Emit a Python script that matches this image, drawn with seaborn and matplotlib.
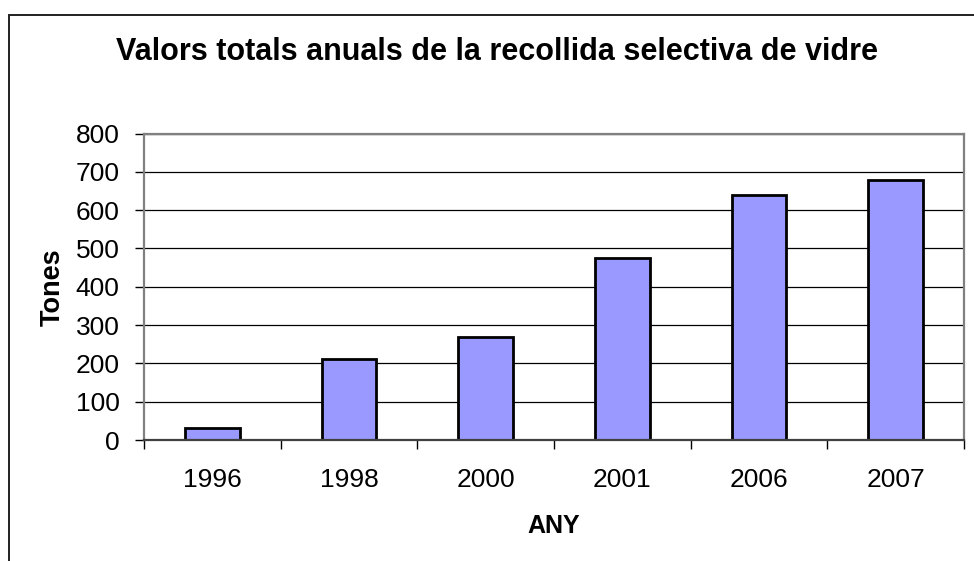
import numpy as np
import pandas as pd
import matplotlib
matplotlib.use("Agg")
import matplotlib.pyplot as plt
import seaborn as sns
from matplotlib.patches import Rectangle
from matplotlib.ticker import FixedLocator

# Data
years = ["1996", "1998", "2000", "2001", "2006", "2007"]
tones = [32, 211, 269, 476, 639, 678]

title = "Valors totals anuals de la recollida selectiva de vidre"
x_label = "ANY"
y_label = "Tones"

sns.set_style("white")
plt.rcParams["font.family"] = ["Liberation Sans", "DejaVu Sans"]
plt.rcParams.update({"text.color": "black", "axes.labelcolor": "black",
                     "xtick.color": "black", "ytick.color": "black"})

W, H = 974, 561
fig = plt.figure(figsize=(W / 100, H / 100), dpi=100)

# plot area in pixel coordinates (left, top, right, bottom)
px_l, px_t, px_r, px_b = 144, 133.5, 964, 440
ax = fig.add_axes([px_l / W, 1 - px_b / H, (px_r - px_l) / W, (px_b - px_t) / H])

df = pd.DataFrame({"year": years, "tones": tones})
sns.barplot(data=df, x="year", y="tones", ax=ax, color="#9999FF",
            saturation=1, width=0.4, edgecolor="black", linewidth=2.0)

ax.set_ylim(0, 800)
ax.set_xlim(-0.5, len(years) - 0.5)
ax.set_yticks(np.arange(0, 801, 100))
ax.yaxis.grid(True, color="black", linewidth=0.9)
ax.set_axisbelow(True)

for side in ["top", "right", "left", "bottom"]:
    ax.spines[side].set_visible(True)
    ax.spines[side].set_color("#808080")
    ax.spines[side].set_linewidth(1.6)
ax.spines["bottom"].set_color("#404040")

# category separators as ticks on the x axis
ax.xaxis.set_minor_locator(FixedLocator(np.arange(-0.5, len(years), 1.0)))
ax.tick_params(bottom=True, left=True, which="both")
ax.tick_params(axis="x", which="major", length=0, pad=20, labelsize=19)
ax.tick_params(axis="x", which="minor", length=6.5, width=1, color="black", direction="out")
ax.tick_params(axis="y", which="major", length=6.5, width=1, color="black",
               direction="out", pad=11, labelsize=19)

ax.set_xlabel(x_label, fontsize=18, fontweight="bold", labelpad=16)
ax.set_ylabel(y_label, fontsize=19.5, fontweight="bold")
ax.yaxis.set_label_coords((66 - px_l) / (px_r - px_l), 0.5)

fig.text(497 / W, 1 - 52 / H, title, fontsize=22, fontweight="bold",
         ha="center", va="center")

# outer chart frame, cut off at right and bottom like the reference
fig.patches.append(Rectangle((8.5 / W, -0.1), 1.2, 1.1 - 15 / H,
                             transform=fig.transFigure, fill=False,
                             edgecolor="#202020", linewidth=1.4))

fig.savefig("out.png", dpi=100)
